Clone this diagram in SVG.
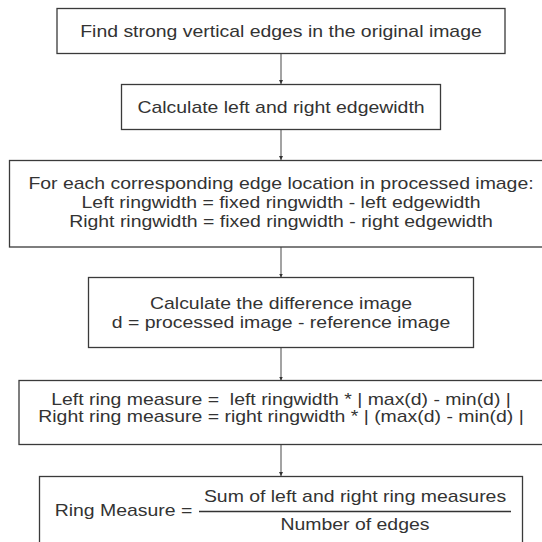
<svg xmlns="http://www.w3.org/2000/svg" width="542" height="542" viewBox="0 0 542 542">
<defs>
<style>
.box{fill:#fff;stroke:#3a3a3a;stroke-width:1.3}
.t{font-family:"Liberation Sans",Arial,sans-serif;font-size:16.2px;fill:#333;text-anchor:middle;white-space:pre}
.c{stroke:#666;stroke-width:1.2;fill:none;marker-end:url(#ah)}
</style>
<marker id="ah" viewBox="0 0 6 6" refX="6" refY="3" markerWidth="4" markerHeight="4" orient="auto" markerUnits="userSpaceOnUse">
<path d="M0,0 L6,3 L0,6 z" fill="#333"/>
</marker>
</defs>
<rect width="542" height="542" fill="#fff"/>
<g id="connectors">
<line class="c" x1="281" y1="53.5" x2="281" y2="84"/>
<line class="c" x1="281" y1="129.5" x2="281" y2="160"/>
<line class="c" x1="281" y1="247" x2="281" y2="277.5"/>
<line class="c" x1="281" y1="347.5" x2="281" y2="380.5"/>
<line class="c" x1="281" y1="444.5" x2="281" y2="476"/>
</g>
<g id="n1">
<rect class="box" x="57" y="8.5" width="448" height="45"/>
<text class="t" transform="translate(281,37) scale(1.2,1)">Find strong vertical edges in the original image</text>
</g>
<g id="n2">
<rect class="box" x="121.5" y="84.5" width="319" height="45"/>
<text class="t" transform="translate(281,112.5) scale(1.2,1)">Calculate left and right edgewidth</text>
</g>
<g id="n3">
<rect class="box" x="9.5" y="160.5" width="543" height="86.5"/>
<text class="t" transform="translate(281,189) scale(1.2,1)">For each corresponding edge location in processed image:</text>
<text class="t" transform="translate(281,208) scale(1.2,1)">Left ringwidth = fixed ringwidth - left edgewidth</text>
<text class="t" transform="translate(281,227) scale(1.2,1)">Right ringwidth = fixed ringwidth - right edgewidth</text>
</g>
<g id="n4">
<rect class="box" x="88.5" y="277.5" width="385" height="70"/>
<text class="t" transform="translate(281,309) scale(1.2,1)">Calculate the difference image</text>
<text class="t" transform="translate(281,328) scale(1.2,1)">d = processed image - reference image</text>
</g>
<g id="n5">
<rect class="box" x="19" y="380.5" width="524" height="64"/>
<text class="t" transform="translate(281,405) scale(1.2,1)">Left ring measure =  left ringwidth * | max(d) - min(d) |</text>
<text class="t" transform="translate(281,422) scale(1.2,1)">Right ring measure = right ringwidth * | (max(d) - min(d) |</text>
</g>
<g id="n6">
<rect class="box" x="39.5" y="476.5" width="483" height="70"/>
<text class="t" transform="translate(123.5,516) scale(1.2,1)">Ring Measure =</text>
<text class="t" transform="translate(355,502) scale(1.2,1)">Sum of left and right ring measures</text>
<line x1="199" y1="511.5" x2="511" y2="511.5" stroke="#333" stroke-width="1.3"/>
<text class="t" transform="translate(355,530) scale(1.2,1)">Number of edges</text>
</g>
</svg>
